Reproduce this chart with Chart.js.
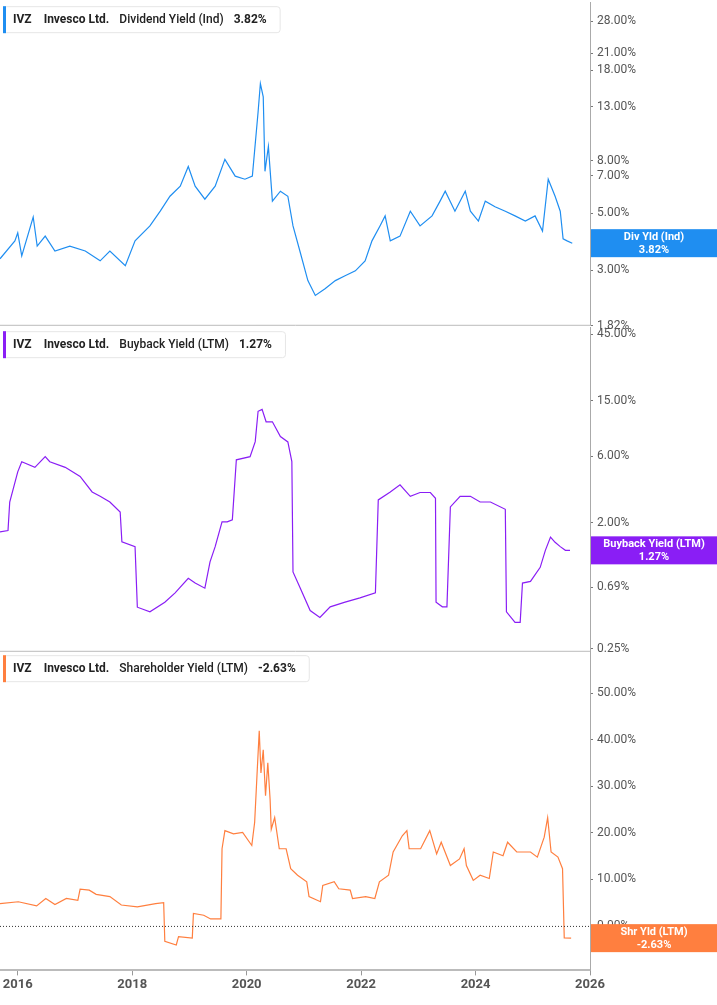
<!DOCTYPE html>
<html><head><meta charset="utf-8">
<script src="https://cdn.jsdelivr.net/npm/chart.js@4"></script>
<style>
html,body{margin:0;padding:0;background:#fff;width:717px;height:1005px;overflow:hidden}
.p{position:absolute;left:0;width:717px}
</style></head><body>
<div class="p" style="top:-9px;height:346px"><canvas id="c1"></canvas></div>
<div class="p" style="top:316px;height:347px"><canvas id="c2"></canvas></div>
<div class="p" style="top:640px;height:355px"><canvas id="c3"></canvas></div>
<script>
const divYears=[2015.69,2015.95,2016.00,2016.07,2016.27,2016.34,2016.48,2016.65,2016.91,2017.18,2017.44,2017.61,2017.88,2018.05,2018.31,2018.49,2018.66,2018.84,2018.98,2019.10,2019.27,2019.45,2019.62,2019.80,2019.97,2020.10,2020.20,2020.24,2020.29,2020.32,2020.38,2020.45,2020.59,2020.72,2020.81,2020.93,2021.07,2021.20,2021.37,2021.55,2021.72,2021.90,2022.07,2022.19,2022.33,2022.42,2022.51,2022.68,2022.86,2023.03,2023.24,2023.38,2023.47,2023.64,2023.82,2023.91,2024.05,2024.17,2024.34,2024.52,2024.69,2024.87,2025.04,2025.17,2025.27,2025.39,2025.48,2025.53,2025.60,2025.69];
const divValues=[3.32,3.90,4.19,3.41,4.83,3.72,4.07,3.56,3.72,3.56,3.26,3.56,3.12,3.90,4.46,5.09,5.82,6.37,7.60,6.37,5.67,6.37,8.10,6.97,6.78,6.97,12.4,16.0,14.2,7.28,9.10,5.57,6.09,5.82,4.46,3.56,2.73,2.39,2.54,2.73,2.85,2.98,3.26,3.90,4.46,4.88,3.90,4.07,5.09,4.46,4.88,5.57,6.09,5.09,6.09,5.09,4.66,5.57,5.30,5.09,4.88,4.66,4.88,4.26,6.78,5.82,5.09,3.97,3.90,3.82];
const buyYears=[2015.69,2015.83,2015.86,2016.00,2016.07,2016.30,2016.48,2016.56,2016.83,2017.09,2017.30,2017.44,2017.61,2017.79,2017.82,2018.05,2018.09,2018.31,2018.57,2018.75,2018.98,2019.10,2019.27,2019.36,2019.45,2019.57,2019.66,2019.75,2019.82,2020.06,2020.15,2020.20,2020.27,2020.34,2020.45,2020.59,2020.72,2020.79,2020.81,2020.93,2021.11,2021.28,2021.46,2021.72,2021.98,2022.25,2022.30,2022.51,2022.68,2022.86,2023.03,2023.21,2023.30,2023.31,2023.42,2023.50,2023.56,2023.73,2023.91,2024.08,2024.26,2024.52,2024.54,2024.69,2024.78,2024.82,2024.96,2025.13,2025.22,2025.31,2025.39,2025.48,2025.57,2025.65];
const buyValues=[1.72,1.76,2.82,4.64,5.48,5.0,5.96,5.48,5.0,4.3,3.33,3.1,2.82,2.39,1.46,1.35,0.497,0.46,0.54,0.63,0.80,0.74,0.68,1.05,1.35,2.03,2.03,2.1,5.66,5.96,7.64,12.6,13.0,10.6,10.6,8.3,7.6,5.5,0.89,0.69,0.47,0.42,0.50,0.54,0.58,0.63,2.92,3.33,3.75,3.1,3.3,3.3,3.0,0.54,0.50,0.50,2.60,3.1,3.1,2.82,2.82,2.5,0.46,0.387,0.387,0.74,0.76,0.96,1.27,1.58,1.45,1.35,1.27,1.27];
const shrYears=[2015.69,2016.01,2016.33,2016.49,2016.65,2016.85,2017.05,2017.09,2017.25,2017.37,2017.61,2017.81,2018.09,2018.41,2018.55,2018.57,2018.77,2018.81,2019.05,2019.07,2019.25,2019.37,2019.55,2019.57,2019.62,2019.77,2019.93,2020.09,2020.14,2020.18,2020.22,2020.25,2020.29,2020.33,2020.37,2020.41,2020.43,2020.49,2020.57,2020.69,2020.77,2020.89,2021.05,2021.09,2021.29,2021.33,2021.53,2021.61,2021.81,2021.85,2022.08,2022.24,2022.32,2022.48,2022.56,2022.72,2022.80,2022.84,2023.04,2023.20,2023.32,2023.40,2023.56,2023.72,2023.80,2023.84,2023.96,2024.08,2024.24,2024.31,2024.48,2024.56,2024.72,2024.96,2025.08,2025.20,2025.26,2025.32,2025.44,2025.52,2025.55,2025.67];
const shrValues=[4.8,5.2,4.3,5.9,4.6,5.9,5.5,7.9,7.7,6.8,6.3,4.5,4.1,4.8,5.0,-3.3,-4.1,-2.3,-2.6,2.7,2.3,1.5,1.5,16.6,20.5,19.8,20.1,17.3,22.3,32.2,42.0,32.9,37.9,28.0,35.1,27.2,20.8,23.3,16.6,16.6,12.3,10.9,9.5,6.3,5.2,8.7,9.5,8.0,7.7,5.9,6.3,5.9,9.5,10.9,15.9,19.4,20.5,16.6,16.6,20.5,15.5,18.0,13.0,14.4,16.6,13.0,9.8,10.9,10.2,15.9,15.1,18.0,15.9,15.9,14.8,19.1,23.3,15.9,14.8,12.3,-2.6,-2.63];
const divTicks=[1.82,3,5,7,8,13,18,21,28];
const buyTicks=[0.25,0.69,2,6,15,45];
const shrTicks=[0,10,20,30,40,50];
const yearTicks=[2016,2018,2020,2022,2024,2026];

const FONT='Roboto, "Noto Sans", sans-serif';
Chart.defaults.font.family=FONT;
const X0=2015.69,X1=2026.0;

function deco(o){return{id:'deco',afterDraw(ch){
  const c=ch.ctx,a=ch.chartArea,ys=ch.scales.y,T=a.top;
  c.save();
  c.font='bold 12px '+FONT;
  const parts=[['IVZ'],['Invesco Ltd.'],[o.title],[o.val]];
  let x=13;const ws=[];
  parts.forEach((p,i)=>{c.font=(i==2?'500 12px ':'bold 12px ')+FONT;ws.push(c.measureText(p[0]).width)});
  const total=ws.reduce((s,w)=>s+w,0)+3*11+22;
  c.fillStyle='#fff';c.strokeStyle='#e6e6e6';c.lineWidth=1;
  c.beginPath();c.roundRect(3.5,T+4.5,total,26,3);c.fill();c.stroke();
  c.fillStyle=o.color;c.fillRect(3,T+4,3,27);
  c.fillStyle='#222';c.textBaseline='middle';
  parts.forEach((p,i)=>{c.font=(i==2?'500 12px ':'bold 12px ')+FONT;c.fillText(p[0],x,T+17.5);x+=ws[i]+(i==0?12:10)});
  const py=ys.getPixelForValue(o.last);
  c.fillStyle=o.color;c.fillRect(591,py-14,126,28);
  c.fillStyle='#fff';c.textAlign='center';c.font='bold 11px '+FONT;
  c.fillText(o.lab,654,py-6);c.fillText(o.val,654,py+7);
  if(o.zero){const zy=ys.getPixelForValue(0);c.strokeStyle='#333';c.setLineDash([1,2]);c.beginPath();c.moveTo(0,zy+.5);c.lineTo(591,zy+.5);c.stroke();}
  if(o.sep){c.setLineDash([]);c.strokeStyle='#bbb';c.beginPath();c.moveTo(0,a.bottom-.5);c.lineTo(591,a.bottom-.5);c.stroke();}
  c.restore();
}}}

function make(id,years,vals,color,ytype,ymin,ymax,ticks,o,showX){
  const data=years.map((y,i)=>({x:y,y:vals[i]}));
  new Chart(document.getElementById(id),{type:'line',
    data:{datasets:[{data,borderColor:color,borderWidth:1.2,pointRadius:0,tension:0,fill:false}]},
    options:{responsive:true,maintainAspectRatio:false,animation:false,
      layout:{padding:0},
      plugins:{legend:{display:false},tooltip:{enabled:false}},
      scales:{
        x:{type:'linear',min:X0,max:X1,display:showX,
          afterBuildTicks:s=>{s.ticks=yearTicks.map(v=>({value:v}))},
          grid:{drawOnChartArea:false,tickLength:5,color:'#999'},
          border:{color:'#bbb',width:2},
          ticks:{color:'#555',font:{size:13,weight:'bold'},autoSkip:false,maxRotation:0,callback:v=>String(v),padding:2}},
        y:{type:ytype,position:'right',min:ymin,max:ymax,
          afterBuildTicks:s=>{s.ticks=ticks.map(v=>({value:v}))},
          afterFit:s=>{s.width=127},
          grid:{drawOnChartArea:false,tickLength:3,color:'#777'},
          border:{color:'#aaa'},
          ticks:{color:'#555',font:{size:12},padding:4,autoSkip:false,callback:v=>Number(v).toFixed(2)+'%'}}
      }},
    plugins:[deco(o)]});
}
make('c1',divYears,divValues,'#1f8ef1','logarithmic',1.82,33.2,divTicks,{title:'Dividend Yield (Ind)',val:'3.82%',lab:'Div Yld (Ind)',last:3.82,color:'#1f8ef1',sep:true},false);
make('c2',buyYears,buyValues,'#8a1ef5','logarithmic',0.238,50.5,buyTicks,{title:'Buyback Yield (LTM)',val:'1.27%',lab:'Buyback Yield (LTM)',last:1.27,color:'#8a1ef5',sep:true},false);
make('c3',shrYears,shrValues,'#ff7f3f','linear',-9.57,59.1,shrTicks,{title:'Shareholder Yield (LTM)',val:'-2.63%',lab:'Shr Yld (LTM)',last:-2.63,color:'#ff7f3f',zero:true},true);
</script></body></html>
